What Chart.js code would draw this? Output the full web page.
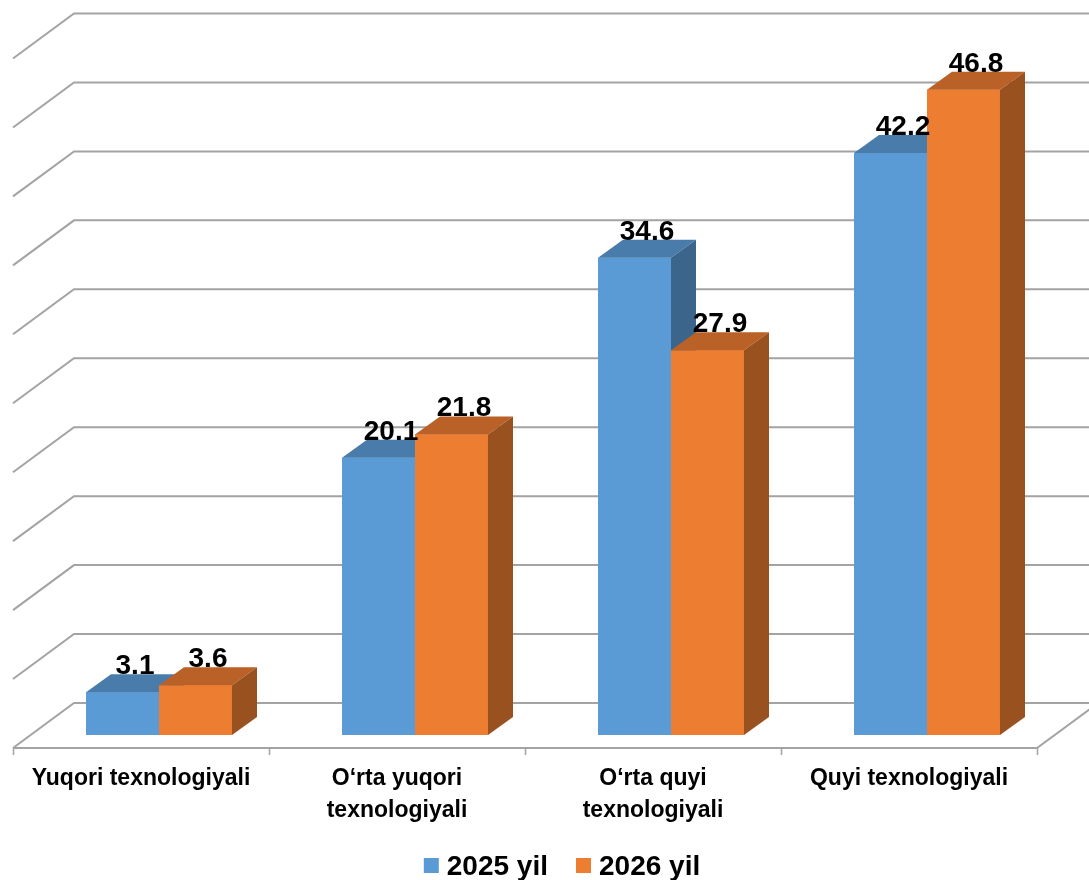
<!DOCTYPE html>
<html><head><meta charset="utf-8">
<title>Texnologiya darajasi bo‘yicha ulush</title>
<script src="https://cdn.jsdelivr.net/npm/chart.js@4.4.7/dist/chart.umd.min.js"></script>
<style>
body{margin:0;background:#fff;font-family:"Liberation Sans",Arial,sans-serif}
.box{position:relative;width:1089px;height:880px}
</style></head><body>
<div class="box"><canvas id="chart"></canvas></div>
<script>
// categories, series values and gridline steps
var CATEGORIES = [
  'Yuqori texnologiyali',
  ['O\u2018rta yuqori', 'texnologiyali'],
  ['O\u2018rta quyi', 'texnologiyali'],
  'Quyi texnologiyali'
];
var SERIES_NAMES = ['2025 yil', '2026 yil'];
var VALUES_2025 = [3.1, 20.1, 34.6, 42.2];
var VALUES_2026 = [3.6, 21.8, 27.9, 46.8];
var Y_TICKS = [0, 5, 10, 15, 20, 25, 30, 35, 40, 45, 50];

var FRONT = ['#5B9BD5', '#ED7D31'];
var TOP = ['#497CAA', '#B96126'];
var SIDE = ['#3B658A', '#9A5120'];
var GRID = '#A3A3A3';

// pseudo 3d offsets (bar plane is the chart plane)
var DEPTH_DX = 25, DEPTH_DY = 18;   // bar depth
var BACK_DX = 43, BACK_DY = 32;     // back wall
var FRONT_DX = -18, FRONT_DY = 13;  // front edge of floor

function drawBox(ctx, bar, i) {
  var l = bar.x - bar.width / 2, r = bar.x + bar.width / 2, t = bar.y, b = bar.base;
  bar.draw(ctx);  // front face, drawn by the library element
  ctx.fillStyle = TOP[i];
  ctx.beginPath();
  ctx.moveTo(l, t);
  ctx.lineTo(r, t);
  ctx.lineTo(r + DEPTH_DX, t - DEPTH_DY);
  ctx.lineTo(l + DEPTH_DX, t - DEPTH_DY);
  ctx.closePath();
  ctx.fill();
  ctx.fillStyle = SIDE[i];
  ctx.beginPath();
  ctx.moveTo(r, t);
  ctx.lineTo(r + DEPTH_DX, t - DEPTH_DY);
  ctx.lineTo(r + DEPTH_DX, b - DEPTH_DY);
  ctx.lineTo(r, b);
  ctx.closePath();
  ctx.fill();
}

var threeD = {
  id: 'threeD',
  beforeDatasetsDraw: function(chart) {
    var ctx = chart.ctx, a = chart.chartArea, y = chart.scales.y;
    ctx.save();
    ctx.strokeStyle = GRID;
    ctx.lineWidth = 2;
    var bx = a.left + BACK_DX, fx = a.left + FRONT_DX;
    Y_TICKS.forEach(function(v) {
      var yb = y.getPixelForValue(v) - BACK_DY;
      ctx.beginPath();
      ctx.moveTo(fx, yb + BACK_DY + FRONT_DY);
      ctx.lineTo(bx, yb);
      ctx.lineTo(chart.width + 20, yb);
      ctx.stroke();
    });
    // floor front edge and right edge
    var y0 = y.getPixelForValue(0);
    var yf = y0 + FRONT_DY, xr = a.right + FRONT_DX;
    ctx.beginPath();
    ctx.moveTo(fx, yf);
    ctx.lineTo(xr, yf);
    ctx.lineTo(xr + (BACK_DX - FRONT_DX), y0 - BACK_DY);
    ctx.stroke();
    // category ticks under floor
    var step = (a.right - a.left) / CATEGORIES.length;
    ctx.lineWidth = 1.5;
    for (var k = 0; k <= CATEGORIES.length; k++) {
      var tx = Math.round(fx + k * step) + 0.5;
      ctx.beginPath();
      ctx.moveTo(tx, yf);
      ctx.lineTo(tx, yf + 7);
      ctx.stroke();
    }
    // category labels
    ctx.fillStyle = '#000';
    ctx.font = 'bold 23px "Liberation Sans", Arial, sans-serif';
    ctx.textAlign = 'center';
    ctx.textBaseline = 'alphabetic';
    var xs = chart.scales.x;
    CATEGORIES.forEach(function(lab, i) {
      var cx = xs.getPixelForValue(i) + FRONT_DX;
      var lines = Array.isArray(lab) ? lab : [lab];
      lines.forEach(function(t, j) { ctx.fillText(t, cx, yf + 37 + j * 32); });
    });
    ctx.restore();
  },
  afterDatasetsDraw: function(chart) {
    var ctx = chart.ctx;
    ctx.save();
    // redraw boxes left to right so the later series covers the earlier one's side
    var n = chart.data.datasets.length;
    for (var i = 0; i < n; i++) {
      chart.getDatasetMeta(i).data.forEach(function(bar) { drawBox(ctx, bar, i); });
    }
    // value labels
    ctx.fillStyle = '#000';
    ctx.font = 'bold 28px "Liberation Sans", Arial, sans-serif';
    ctx.textAlign = 'center';
    ctx.textBaseline = 'alphabetic';
    chart.data.datasets.forEach(function(ds, i) {
      chart.getDatasetMeta(i).data.forEach(function(bar, j) {
        ctx.fillText(ds.data[j].toFixed(1), bar.x + DEPTH_DX / 2, bar.y - DEPTH_DY);
      });
    });
    // legend
    ctx.font = 'bold 28px "Liberation Sans", Arial, sans-serif';
    ctx.textAlign = 'left';
    var widths = chart.data.datasets.map(function(ds) { return ctx.measureText(ds.label).width; });
    var total = 0;
    widths.forEach(function(w) { total += 15 + 8 + w; });
    total += 28 * (widths.length - 1);
    var x = 562 - total / 2, ly = 875;
    chart.data.datasets.forEach(function(ds, i) {
      ctx.fillStyle = ds.backgroundColor;
      ctx.fillRect(x, ly - 17, 15, 15);
      ctx.fillStyle = '#000';
      ctx.fillText(ds.label, x + 23, ly);
      x += 23 + widths[i] + 28;
    });
    ctx.restore();
  }
};

var ctx = document.getElementById('chart').getContext('2d');
new Chart(ctx, {
  type: 'bar',
  data: {
    labels: CATEGORIES,
    datasets: [
      {label: SERIES_NAMES[0], data: VALUES_2025, backgroundColor: FRONT[0]},
      {label: SERIES_NAMES[1], data: VALUES_2026, backgroundColor: FRONT[1]}
    ]
  },
  options: {
    responsive: true,
    maintainAspectRatio: false,
    animation: false,
    devicePixelRatio: 1,
    layout: {padding: {left: 31, right: 34, top: 45.5, bottom: 145}},
    datasets: {bar: {categoryPercentage: 0.5703, barPercentage: 1.0, borderWidth: 0}},
    plugins: {legend: {display: false}, tooltip: {enabled: false}},
    scales: {
      x: {display: false},
      y: {display: false, min: 0, max: 50, ticks: {stepSize: 5}}
    }
  },
  plugins: [threeD]
});
</script></body></html>
